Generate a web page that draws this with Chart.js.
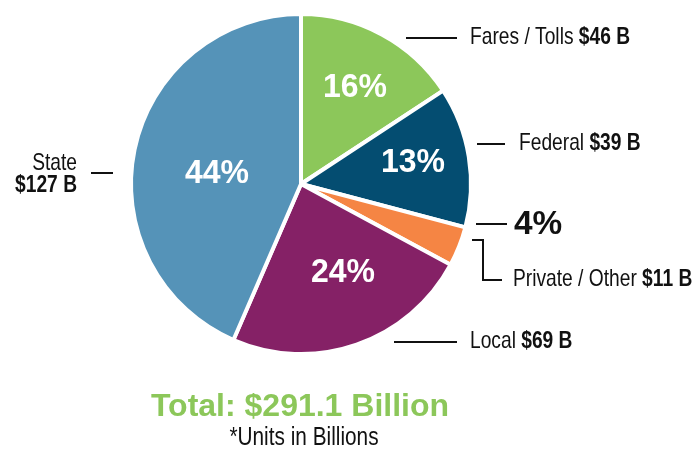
<!DOCTYPE html>
<html>
<head>
<meta charset="utf-8">
<script src="https://cdn.jsdelivr.net/npm/chart.js@4.4.1/dist/chart.umd.min.js"></script>
<style>
  html, body { margin: 0; padding: 0; background: #fff; }
  #wrap { position: relative; width: 700px; height: 451px; }
</style>
</head>
<body>
<div id="wrap"><canvas id="c" width="700" height="451"></canvas></div>
<script>
const categories = ['Fares / Tolls', 'Federal', 'Private / Other', 'Local', 'State'];
const amounts = [46, 39, 11, 69, 127];
const amountLabels = ['$46 B', '$39 B', '$11 B', '$69 B', '$127 B'];
const percentLabels = ['16%', '13%', '4%', '24%', '44%'];
const sliceColors = ['#8CC75A', '#044D71', '#F58544', '#852166', '#5593B8'];
const totalLabel = 'Total: $291.1 Billion';
const unitsNote = '*Units in Billions';

const FONT = "'Liberation Sans', 'Arial', sans-serif";
const SQ = 0.8; // horizontal condensing for label text

function condText(ctx, txt, x, y, font, align, scale) {
  ctx.save();
  ctx.font = font;
  ctx.textBaseline = 'middle';
  ctx.textAlign = 'left';
  const w = ctx.measureText(txt).width * scale;
  let sx = x;
  if (align === 'right') sx = x - w;
  else if (align === 'center') sx = x - w / 2;
  ctx.translate(sx, y);
  ctx.scale(scale, 1);
  ctx.fillText(txt, 0, 0);
  ctx.restore();
  return w;
}
function mixedText(ctx, x, y, regular, bold, size) {
  ctx.fillStyle = '#111';
  const w1 = condText(ctx, regular, x, y, size + 'px ' + FONT, 'left', SQ);
  condText(ctx, bold, x + w1, y, 'bold ' + size + 'px ' + FONT, 'left', SQ);
}
function hline(ctx, x1, x2, y) {
  ctx.beginPath(); ctx.moveTo(x1, y); ctx.lineTo(x2, y); ctx.stroke();
}

const labelPlugin = {
  id: 'labels',
  afterDraw(chart) {
    const ctx = chart.ctx;
    ctx.save();
    // inner percent labels
    const innerPos = [[355, 88], [413, 163], null, [343, 273], [217, 174]];
    ctx.fillStyle = '#fff';
    innerPos.forEach((p, i) => {
      if (p) condText(ctx, percentLabels[i], p[0], p[1], 'bold 33px ' + FONT, 'center', 0.97);
    });
    // outer labels
    ctx.strokeStyle = '#111';
    ctx.lineWidth = 2;
    const fs = 24;
    hline(ctx, 406, 457, 38);
    mixedText(ctx, 470, 37, categories[0] + ' ', amountLabels[0], fs);
    hline(ctx, 477, 505, 144);
    mixedText(ctx, 519, 143, categories[1] + ' ', amountLabels[1], fs);
    hline(ctx, 476, 507, 224);
    ctx.fillStyle = '#111';
    condText(ctx, percentLabels[2], 514, 225, 'bold 34px ' + FONT, 'left', 0.98);
    ctx.beginPath();
    ctx.moveTo(472, 240); ctx.lineTo(483, 240); ctx.lineTo(483, 280); ctx.lineTo(502, 280);
    ctx.stroke();
    mixedText(ctx, 513, 279, categories[2] + ' ', amountLabels[2], fs);
    hline(ctx, 394, 457, 342);
    mixedText(ctx, 470, 341, categories[3] + ' ', amountLabels[3], fs);
    hline(ctx, 91, 113, 173);
    ctx.fillStyle = '#111';
    condText(ctx, categories[4], 77, 163, fs + 'px ' + FONT, 'right', SQ);
    condText(ctx, amountLabels[4], 77, 185, 'bold ' + fs + 'px ' + FONT, 'right', SQ);
    // total
    ctx.fillStyle = '#8CC75A';
    condText(ctx, totalLabel, 300, 407, 'bold 32px ' + FONT, 'center', 1);
    ctx.fillStyle = '#111';
    condText(ctx, unitsNote, 304, 438, '26px ' + FONT, 'center', SQ);
    ctx.restore();
  }
};

new Chart(document.getElementById('c'), {
  type: 'pie',
  data: {
    labels: categories,
    datasets: [{
      data: amounts,
      backgroundColor: sliceColors,
      borderColor: '#ffffff',
      borderWidth: 4,
      hoverOffset: 0
    }]
  },
  options: {
    responsive: false,
    animation: false,
    layout: { padding: { left: 129, right: 227, top: 12, bottom: 95 } },
    plugins: {
      legend: { display: false },
      tooltip: { enabled: false }
    }
  },
  plugins: [labelPlugin]
});
</script>
</body>
</html>
